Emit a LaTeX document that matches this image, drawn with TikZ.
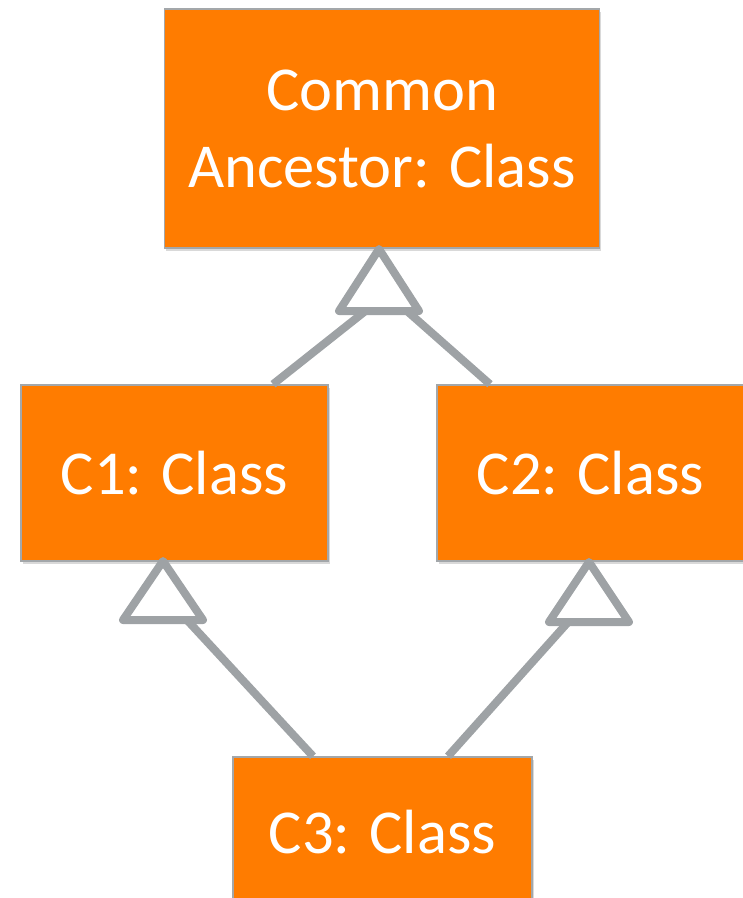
\documentclass[tikz,border=0pt]{standalone}
\usepackage{fontspec}
\setmainfont{Carlito}
\usetikzlibrary{shadows,calc}

\definecolor{boxorange}{HTML}{FF7C00}
\definecolor{edgegray}{HTML}{A3A7AA}
\definecolor{linkgray}{HTML}{9EA2A5}

\tikzset{
  classbox/.style={draw=edgegray, line width=1.5pt, fill=boxorange,
    inner sep=0pt, text=white, align=center,
    font=\fontsize{62.5}{77}\selectfont,
    drop shadow={shadow xshift=1.5pt, shadow yshift=-2.5pt, opacity=0.3}},
  link/.style={draw=linkgray, line width=8pt},
  inherit/.style={draw=linkgray, line width=8pt, line join=round, line cap=round}
}

\begin{document}
\begin{tikzpicture}[x=1pt, y=-1pt]
  \useasboundingbox (0,0) rectangle (743,898);
  \clip (0,0) rectangle (743,898);

  % classes
  \node[classbox, minimum width=435pt, minimum height=239pt] (top) at (382,128.5)
    {Common\\Ancestor: Class};
  \node[classbox, minimum width=307pt, minimum height=176pt] (c1) at (174.5,473)
    {C1: Class};
  \node[classbox, minimum width=307pt, minimum height=176pt] (c2) at (590.5,473)
    {C2: Class};
  \node[classbox, minimum width=299pt, minimum height=150pt] (c3) at (382.5,832)
    {C3: Class};

  % generalization heads
  \coordinate (h0) at (379,249);
  \coordinate (h0l) at ($(h0)+(-40,62)$);
  \coordinate (h0r) at ($(h0)+(40,62)$);
  \coordinate (h1) at (163,561);
  \coordinate (h1l) at ($(h1)+(-40,59)$);
  \coordinate (h1r) at ($(h1)+(40,59)$);
  \coordinate (h2) at (589,562);
  \coordinate (h2l) at ($(h2)+(-40,60)$);
  \coordinate (h2r) at ($(h2)+(40,60)$);

  % points where the links meet the heads
  \coordinate (j0a) at ($(h0l)!0.33!(h0r)$);
  \coordinate (j0b) at ($(h0l)!0.85!(h0r)$);
  \coordinate (j1) at ($(h1l)!0.8!(h1r)$);
  \coordinate (j2) at ($(h2l)!0.24!(h2r)$);

  % links
  \draw[link] ($(c1.north)+(98.5,0)$) -- (j0a);
  \draw[link] ($(c2.north)+(-100.5,0)$) -- (j0b);
  \draw[link] ($(c3.north)+(-69.5,0)$) -- (j1);
  \draw[link] ($(c3.north)+(65.5,0)$) -- (j2);

  \draw[inherit] (h0) -- (h0l) -- (h0r) -- cycle;
  \draw[inherit] (h1) -- (h1l) -- (h1r) -- cycle;
  \draw[inherit] (h2) -- (h2l) -- (h2r) -- cycle;
\end{tikzpicture}
\end{document}
